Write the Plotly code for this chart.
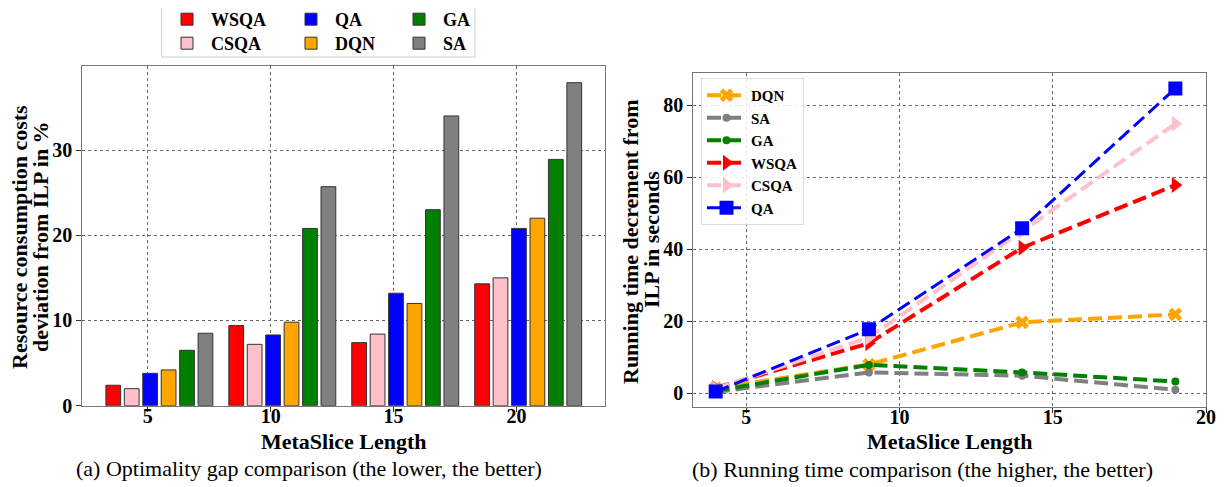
import plotly.graph_objects as go

# ---------------- data ----------------
lengths_a = [5, 10, 15, 20]
bar_series = ["WSQA", "CSQA", "QA", "DQN", "GA", "SA"]
gap_wsqa = [2.4, 9.4, 7.4, 14.3]
gap_csqa = [2.0, 7.2, 8.4, 15.0]
gap_qa = [3.8, 8.3, 13.2, 20.8]
gap_dqn = [4.2, 9.8, 12.0, 22.0]
gap_ga = [6.5, 20.8, 23.0, 28.9]
gap_sa = [8.5, 25.7, 34.0, 37.9]

lengths_b = [4, 9, 14, 19]
line_series = ["DQN", "SA", "GA", "WSQA", "CSQA", "QA"]
rt_dqn = [1.4, 8.0, 19.7, 21.9]
rt_sa = [0.4, 5.8, 4.9, 1.0]
rt_ga = [0.7, 7.9, 5.8, 3.3]
rt_wsqa = [1.5, 13.9, 40.4, 57.8]
rt_csqa = [1.3, 15.5, 45.0, 74.8]
rt_qa = [0.5, 17.8, 45.8, 84.6]

yticks_a = [0, 10, 20, 30]
yticks_b = [0, 20, 40, 60, 80]
xticks = [5, 10, 15, 20]

# ---------------- style ----------------
W, H = 1224, 487
OFF = 8  # page offset of the plot div inside the browser window
FONT = "Liberation Serif"
colors = {"WSQA": "red", "CSQA": "pink", "QA": "blue", "DQN": "orange",
          "GA": "green", "SA": "gray"}
gap_vals = {"WSQA": gap_wsqa, "CSQA": gap_csqa, "QA": gap_qa,
            "DQN": gap_dqn, "GA": gap_ga, "SA": gap_sa}
rt_vals = {"DQN": rt_dqn, "SA": rt_sa, "GA": rt_ga, "WSQA": rt_wsqa,
           "CSQA": rt_csqa, "QA": rt_qa}
markers = {"DQN": ("x", 12, 4), "SA": ("circle", 8, 4), "GA": ("circle", 8, 4),
           "WSQA": ("triangle-right", 14, 4), "CSQA": ("triangle-right", 14, 4),
           "QA": ("square", 14, 3)}

BAR_W = 0.6
BAR_STEP = 0.75
BAR_FIRST = -1.4

# legend slot (window pixels) for each bar series: (left x, top y)
bar_leg_pos = {"WSQA": (163, 1), "CSQA": (163, 25), "QA": (287, 1),
               "DQN": (287, 25), "GA": (395, 1), "SA": (395, 25)}


def px_x(p):
    return (p - OFF) / W


def px_y(p):
    return 1 - (p - OFF) / H


fig = go.Figure()

legfont_a = dict(family=FONT, size=18, color="black", weight="bold")
legfont_b = dict(family=FONT, size=15, color="black", weight="bold")
layout_legends = {}

for i, name in enumerate(bar_series):
    lname = "legend" if i == 0 else f"legend{i + 1}"
    fig.add_trace(go.Bar(
        x=lengths_a, y=gap_vals[name], name=name,
        width=BAR_W, offset=BAR_FIRST + i * BAR_STEP - BAR_W / 2,
        marker=dict(color=colors[name], line=dict(color="#333333", width=1)),
        xaxis="x", yaxis="y", legend=lname,
    ))
    lx, ly = bar_leg_pos[name]
    layout_legends[lname] = dict(x=px_x(lx), y=px_y(ly), xanchor="left", yanchor="top",
                                 font=legfont_a, bgcolor="rgba(0,0,0,0)", borderwidth=0,
                                 orientation="v", itemwidth=38)

for name in line_series:
    sym, sz, lw = markers[name]
    fig.add_trace(go.Scatter(
        x=lengths_b, y=rt_vals[name], name=name, mode="lines+markers",
        line=dict(color=colors[name], width=lw, dash="14px,6px"),
        marker=dict(symbol=sym, size=sz, color=colors[name]),
        xaxis="x2", yaxis="y2", legend="legend7",
    ))

layout_legends["legend7"] = dict(x=px_x(701), y=px_y(78), font=legfont_b,
                                 bgcolor="rgba(255,255,255,0.85)",
                                 bordercolor="#dddddd", borderwidth=1, orientation="v",
                                 xanchor="left", yanchor="top", itemwidth=39)

tickfont = dict(family=FONT, size=20, color="black", weight="bold")
axis_common = dict(showline=True, mirror=True, linecolor="#777777", linewidth=1.2,
                   ticks="outside", ticklen=5, tickcolor="#333333",
                   showgrid=True, gridcolor="#666666", griddash="dot", gridwidth=1,
                   zeroline=False, tickfont=tickfont)


def ann(text, x, y, size, bold=False, angle=0):
    return dict(text=text, xref="paper", yref="paper", x=px_x(x), y=px_y(y),
                xanchor="center", yanchor="middle", showarrow=False, textangle=angle,
                font=dict(family=FONT, size=size, color="black",
                          weight="bold" if bold else "normal"))


fig.update_layout(
    width=W, height=H, margin=dict(l=0, r=0, t=0, b=0, autoexpand=False),
    paper_bgcolor="white", plot_bgcolor="white",
    barmode="overlay", showlegend=True,
    xaxis=dict(domain=[px_x(82.3), px_x(605)], range=[2.34, 23.6],
               tickvals=xticks, anchor="y", ticklabelstandoff=-13, **axis_common),
    yaxis=dict(domain=[px_y(405.7), px_y(66)], range=[0, 39.86],
               tickvals=yticks_a, anchor="x", **axis_common),
    xaxis2=dict(domain=[px_x(693.3), px_x(1206)], range=[3.27, 20],
                tickvals=xticks, anchor="y2", ticklabelstandoff=-13, **axis_common),
    yaxis2=dict(domain=[px_y(406.7), px_y(73.3)], range=[-3.7, 88.8],
                tickvals=yticks_b, anchor="x2", **axis_common),
    shapes=[dict(type="rect", xref="paper", yref="paper",
                 x0=px_x(161.7), x1=px_x(475), y0=px_y(57), y1=px_y(6),
                 line=dict(color="#cccccc", width=1), fillcolor="rgba(0,0,0,0)")],
    annotations=[
        ann("Resource consumption costs", 19, 237, 22, True, -90),
        ann("deviation from ILP in %", 40, 237, 22, True, -90),
        ann("Running time decrement from", 630, 242, 22, True, -90),
        ann("ILP in seconds", 652, 240, 22, True, -90),
        ann("MetaSlice Length", 343.6, 441, 22, True),
        ann("MetaSlice Length", 949.6, 441, 22, True),
        ann("(a) Optimality gap comparison (the lower, the better)", 309, 468, 22),
        ann("(b) Running time comparison (the higher, the better)", 922, 469, 22),
    ],
    **layout_legends,
)

fig.write_html("out.html")
